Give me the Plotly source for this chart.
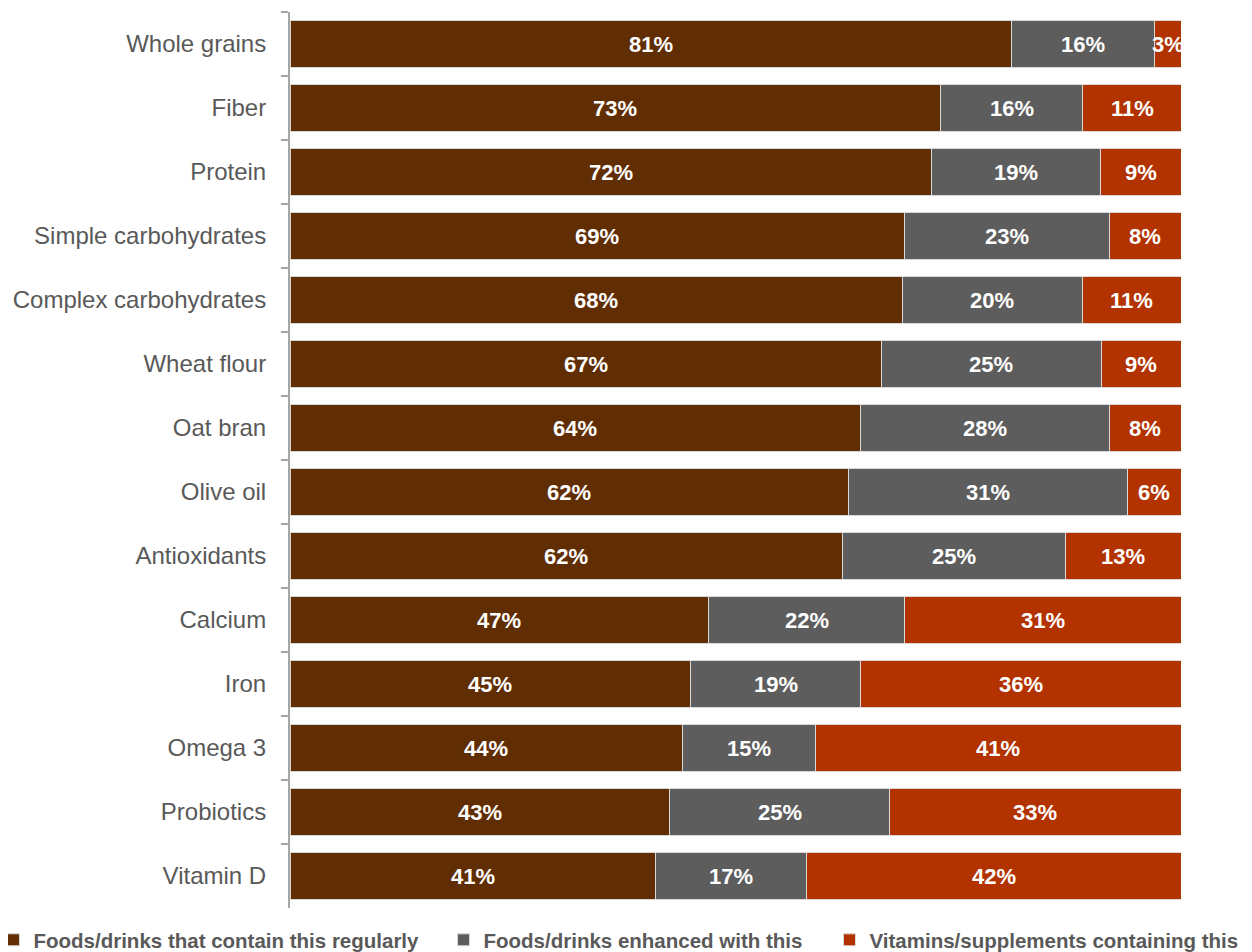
import plotly.graph_objects as go

categories = ["Whole grains", "Fiber", "Protein", "Simple carbohydrates",
              "Complex carbohydrates", "Wheat flour", "Oat bran", "Olive oil",
              "Antioxidants", "Calcium", "Iron", "Omega 3", "Probiotics", "Vitamin D"]
contain_regularly = [81, 73, 72, 69, 68, 67, 64, 62, 62, 47, 45, 44, 43, 41]
enhanced_with = [16, 16, 19, 23, 20, 25, 28, 31, 25, 22, 19, 15, 25, 17]
supplements = [3, 11, 9, 8, 11, 9, 8, 6, 13, 31, 36, 41, 33, 42]

series_names = ["Foods/drinks that contain this regularly",
                "Foods/drinks enhanced with this",
                "Vitamins/supplements containing this"]
colors = ["#612D03", "#5D5D5D", "#B23200"]
series = [contain_regularly, enhanced_with, supplements]
legend_ids = ["legend", "legend2", "legend3"]
legend_x = [-0.3328, 0.1723, 0.6055]

FONT = "Liberation Sans, Arial"

fig = go.Figure()
for name, vals, col, lg in zip(series_names, series, colors, legend_ids):
    fig.add_trace(go.Bar(
        y=categories, x=vals, name=name, orientation="h", legend=lg,
        marker=dict(color=col, line=dict(color="#D9D9D9", width=1)),
        textposition="none",
    ))

# value labels centred in each segment (segments normalised to row total)
totals = [sum(t) for t in zip(*series)]
annotations = []
for i, cat in enumerate(categories):
    start = 0.0
    for vals in series:
        w = vals[i] / totals[i] * 100
        annotations.append(dict(
            x=start + w / 2, y=cat, xref="x", yref="y", text=f"{vals[i]}%",
            showarrow=False, font=dict(family=FONT, size=22, color="white", weight="bold"),
        ))
        start += w

legend_style = dict(orientation="h", xref="paper", xanchor="left",
                    yref="paper", y=-0.0357, yanchor="middle",
                    bgcolor="rgba(0,0,0,0)",
                    font=dict(family=FONT, size=20.5, color="#595959", weight="bold"))

fig.update_layout(
    barmode="stack", barnorm="percent", bargap=0.28,
    width=1244, height=944,
    margin=dict(l=282, r=71, t=4, b=44, autoexpand=False),
    plot_bgcolor="white", paper_bgcolor="white",
    font=dict(family=FONT, color="#595959"),
    annotations=annotations,
    legend=dict(x=legend_x[0], **legend_style),
    legend2=dict(x=legend_x[1], **legend_style),
    legend3=dict(x=legend_x[2], **legend_style),
    showlegend=True,
)
fig.update_xaxes(range=[0, 100], visible=False, fixedrange=True)
fig.update_yaxes(
    categoryorder="array", categoryarray=categories, autorange="reversed",
    showline=True, linecolor="#A6A6A6", linewidth=2,
    ticks="outside", tickson="boundaries", ticklen=7, tickcolor="#A6A6A6", tickwidth=2,
    ticklabelstandoff=17,
    tickfont=dict(family=FONT, size=24, color="#595959"),
    showgrid=False,
)

fig.write_html("out.html")
